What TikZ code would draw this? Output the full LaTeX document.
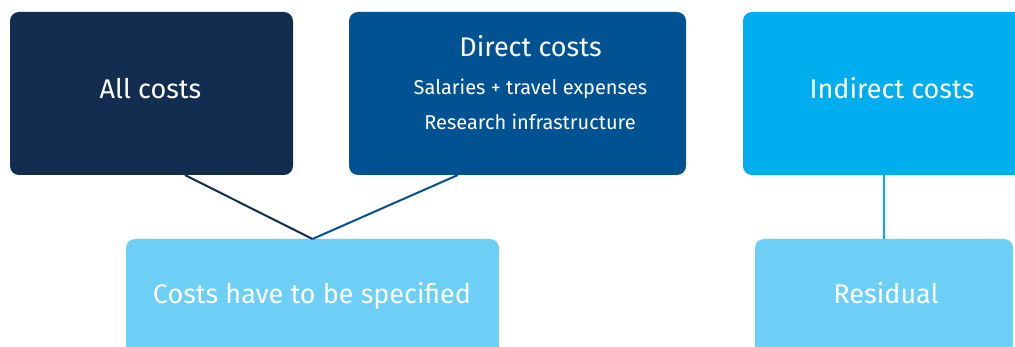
\documentclass[tikz,border=0pt]{standalone}
\usepackage{fontspec}
\setmainfont{Fira Sans}
\usetikzlibrary{calc}
\definecolor{navy}{HTML}{122D50}
\definecolor{midblue}{HTML}{005293}
\definecolor{cyanblue}{HTML}{00AEEF}
\definecolor{lightblue}{HTML}{6DCFF6}
\tikzset{
  box/.style={rounded corners=9pt, minimum width=#1, inner sep=0pt, outer sep=0pt, draw=none},
  big/.style={text=white, anchor=base, inner sep=0pt, font=\fontsize{27}{30}\selectfont},
  small/.style={text=white, anchor=base, inner sep=0pt, font=\fontsize{20}{24}\selectfont},
  conn/.style={line width=2pt}
}
\begin{document}
\begin{tikzpicture}[x=1pt,y=-1pt]
\useasboundingbox (0,0) rectangle (1015,347);
\clip (0,0) rectangle (1015,347);
\node[box=283pt, minimum height=163pt, fill=navy] (all) at (151.5,93.5) {};
\node[box=337pt, minimum height=163pt, fill=midblue] (direct) at (517.5,93.5) {};
\node[box=282pt, minimum height=163pt, fill=cyanblue] (indirect) at (884,93.5) {};
\node[box=373pt, minimum height=130pt, fill=lightblue] (spec) at (312.5,304) {};
\node[box=258pt, minimum height=130pt, fill=lightblue] (resid) at (884,304) {};
\node[big] (tall) at (150.5,99) {All costs};
\node[big] (tdirect) at (530.5,57) {Direct costs};
\node[small] (tsal) at (530.5,95) {Salaries + travel expenses};
\node[small] (tres) at (530,130) {Research infrastructure};
\node[big] (tind) at (892,99) {Indirect costs};
\node[big] (tspec) at (312,304) {Costs have to be specified};
\node[big] (tresid) at (886,304) {Residual};
\draw[conn, navy] ($(all.south west)!0.618!(all.south east)$) -- (spec.north);
\draw[conn, midblue] ($(direct.south west)!0.323!(direct.south east)$) -- (spec.north);
\draw[conn, cyanblue] (indirect.south) -- (resid.north);
\end{tikzpicture}
\end{document}
